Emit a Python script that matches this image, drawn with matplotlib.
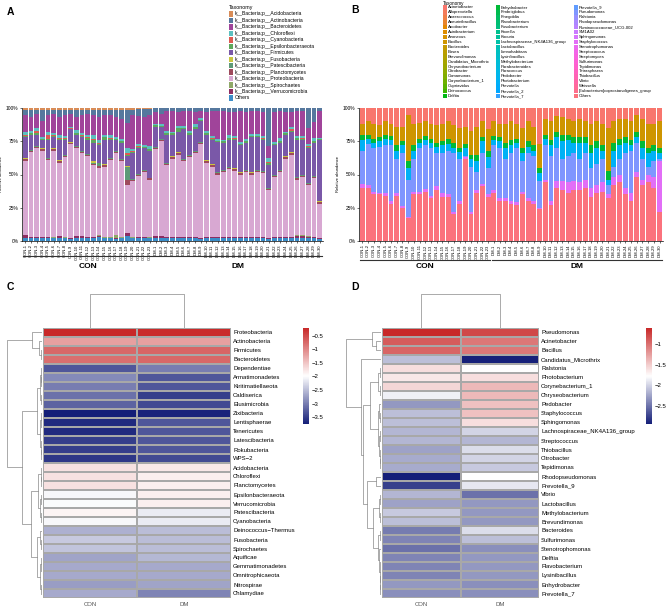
import numpy as np
import matplotlib
matplotlib.use("Agg")
import matplotlib.pyplot as plt
from matplotlib.colors import LinearSegmentedColormap, Normalize
from matplotlib.patches import Rectangle
from matplotlib.cm import ScalarMappable
from matplotlib.transforms import blended_transform_factory

plt.rcParams['font.family'] = ['Liberation Sans', 'DejaVu Sans']

# ---------------- samples ----------------
con_ids = ['CON-%d' % i for i in range(1, 24)]
dm_ids = ['DM-%d' % i for i in range(1, 31)]
samples = con_ids + dm_ids

# ---------------- panel A: phylum composition (%) ----------------
phyla = ['Acidobacteria', 'Actinobacteria', 'Bacteroidetes', 'Chloroflexi', 'Cyanobacteria',
         'Epsilonbacteraeota', 'Firmicutes', 'Fusobacteria', 'Patescibacteria', 'Planctomycetes',
         'Proteobacteria', 'Spirochaetes', 'Verrucomicrobia', 'Others']
phylum_colors = ['#D88C58', '#56789E', '#A0449A', '#5CC0C0', '#DE5A52', '#5DA85C', '#7A58A8',
                 '#C9C640', '#5E9A78', '#9E4A5C', '#D8A8D2', '#8FA868', '#8E2E62', '#3C8DC8']

acido = [1.5, 1.5, 1.5, 1.5, 1.5, 1.5, 1.5, 1.5, 1.5, 1.5, 1.5, 1.5, 1.5, 1.5, 1.5, 1.5, 1.5, 1.5, 1.5, 1.5, 1, 0.5, 0.5,
         0.3, 0.3, 0.3, 0.3, 0.3, 0.3, 0.3, 0.3, 0.3, 0.3, 0.3, 0.3, 0.3, 0.3, 0.3, 0.3, 0.3, 0.3, 0.3, 0.3, 0.3, 0.3, 0.3,
         0.3, 0.3, 0.3, 0.3, 0.3, 0.3, 0.3]
actino = [4, 5, 3, 8, 4, 3, 5, 4, 3, 5, 4, 3, 4, 5, 4, 4, 5, 7, 10, 4, 5, 6, 5,
          3, 4, 2, 2, 3, 2, 2, 3, 2, 3, 2, 2, 2, 3, 3, 2, 3, 2, 2, 3, 28, 3, 2, 3, 3, 2, 2, 15, 10, 2]
bactero = [12.5, 10.5, 10.5, 12, 12.5, 14.5, 14, 15.5, 9.5, 10, 13, 15.5, 15, 17.5, 14.5, 15, 15, 14.5, 18.5, 25, 21, 21, 23,
           8.4, 7.9, 14.9, 15.4, 10.4, 11.4, 14.9, 8.9, 5.4, 13.9, 18.4, 20.9, 21.4, 16.9, 17.4, 23.4, 19.9, 17.4,
           16.9, 17.4, 9.4, 21.9, 20.4, 14.4, 11.2, 18.9, 18.4, 11.4, 12.4, 19.9]
chloro = [2, 1.5, 2, 1.5, 2, 1.5, 2, 1.5, 1, 2, 1.5, 2, 3, 2, 1.5, 2, 1.5, 1.5, 4, 2, 1.5, 1.5, 2,
          1, 1, 1.5, 1, 1, 1, 1.5, 2, 1, 1.5, 2, 1.5, 1, 2, 2, 1, 1.5, 1, 1.5, 2, 3, 1.5, 2, 1, 1, 1.5, 2, 2, 2, 1]
cyano = [1, 0.5, 2, 0.5, 3, 0.5, 1, 0.5, 0.5, 0.5, 1, 0.5, 0.5, 1, 0.5, 0.5, 0.5, 0.5, 1, 0.5, 0.5, 0.5, 0.5,
         0.3, 0.3, 0.3, 0.3, 0.3, 0.3, 0.3, 0.3, 0.3, 0.3, 0.3, 0.3, 0.3, 0.3, 0.3, 0.3, 0.3, 0.3, 0.3, 0.3, 0.3,
         0.3, 0.3, 0.3, 1.5, 0.3, 0.3, 0.3, 0.3, 0.3]
epsilon = [1, 1, 1, 0.5, 1, 1, 0.5, 1, 0.5, 1, 1, 1.5, 2, 1, 2, 1, 0.5, 1, 1, 1, 1, 0.5, 1,
           1, 0.5, 1, 1, 3, 1, 1, 1.5, 1, 1, 1, 1, 1, 1.5, 1, 1, 1, 1, 1, 1, 2, 1, 1, 1, 1, 1, 1, 1, 1, 0.5]
firmic = [16, 11.3, 8.3, 6.3, 13.3, 8.3, 15.3, 11.3, 9.8, 8.3, 10.3, 10.3, 14, 13.3, 18.3, 13.3, 8.3, 12.3, 7.8,
          19.3, 19.3, 16.3, 20.3,
          15.3, 9.3, 21.3, 16.3, 15.3, 22.3, 15.3, 16.3, 15.3, 19.3, 18.3, 22.3, 20.3, 20.3, 21.3, 20.3, 20.3,
          26.3, 24.3, 23.3, 17.3, 22.3, 20.3, 16.3, 15.3, 28.3, 26.3, 26.3, 25.3, 46.3]
fuso = [0.2, 0.2, 0.2, 0.2, 0.2, 0.2, 0.2, 0.2, 0.2, 0.2, 0.2, 0.2, 1.5, 0.2, 0.2, 0.2, 0.2, 0.2, 0.2, 0.2, 0.2, 0.2, 0.2,
        0.2, 0.2, 0.2, 0.2, 0.2, 0.2, 0.2, 0.2, 0.2, 0.2, 0.2, 0.2, 0.2, 0.2, 0.2, 0.2, 0.2, 0.2, 0.2, 0.2, 0.2,
        0.2, 0.2, 0.2, 0.2, 0.2, 0.2, 0.2, 0.2, 0.2]
patesci = [0.5, 0.5, 0.5, 0.5, 0.5, 0.5, 0.5, 0.5, 0.5, 0.5, 0.5, 0.5, 0.5, 2, 0.5, 0.5, 0.5, 0.5, 10, 0.5, 0.5, 0.5, 0.5,
           0.5, 0.5, 0.5, 0.5, 0.5, 0.5, 0.5, 0.5, 0.5, 0.5, 0.5, 0.5, 0.5, 0.5, 0.5, 0.5, 0.5, 0.5, 0.5, 0.5, 0.5,
           0.5, 0.5, 0.5, 0.5, 0.5, 0.5, 0.5, 0.5, 0.5]
plancto = [1.5, 1, 1, 1, 1, 1, 1, 1, 0.5, 1, 1, 1, 1, 1.5, 1, 1, 1, 1, 4, 1, 1, 1, 1,
           1, 1, 1, 1, 1, 1, 1, 1, 1, 1, 1, 2, 1, 1, 1, 1, 1, 1, 1, 1, 1, 1, 1, 1, 1, 2, 1, 1, 1, 1]
proteo = [55.2, 63.7, 66.7, 64.7, 57.7, 65.2, 55.2, 60.2, 70.7, 66.2, 62.2, 60.7, 53.7, 50.7, 53.2, 58.2, 61.5,
          57.2, 35.7, 42.2, 45.7, 48.7, 43.2,
          65.2, 71.2, 53.9, 58.9, 61.9, 56.9, 59.9, 62.9, 70.4, 55.9, 52.9, 46.9, 48.9, 50.9, 49.9, 46.9, 48.9,
          46.9, 48.9, 47.9, 35.4, 44.9, 48.9, 58.9, 61.9, 41.7, 43.7, 38.4, 43.9, 25.4]
spiro = [0.3, 0.3, 0.3, 0.3, 0.3, 0.3, 0.3, 0.3, 0.3, 0.3, 0.3, 0.3, 0.3, 0.3, 0.3, 0.3, 2, 0.3, 0.3, 0.3, 0.3, 0.3, 0.3,
         0.3, 0.3, 0.3, 0.3, 0.3, 0.3, 0.3, 0.3, 0.3, 0.3, 0.3, 0.3, 0.3, 0.3, 0.3, 0.3, 0.3, 0.3, 0.3, 0.3, 0.3,
         0.3, 0.3, 0.3, 0.3, 0.3, 0.3, 0.3, 0.3, 0.3]
verruco = [2, 0.5, 1, 1, 1, 0.5, 1, 0.5, 0.5, 1, 1, 0.5, 1, 1, 0.5, 0.5, 1, 0.5, 2, 0.5, 0.5, 0.5, 0.5,
           1, 1, 0.8, 0.8, 0.8, 0.8, 0.8, 0.8, 0.8, 0.8, 0.8, 0.8, 0.8, 0.8, 0.8, 0.8, 0.8, 0.8, 0.8, 0.8, 0.8,
           0.8, 0.8, 0.8, 0.8, 2, 2, 0.8, 0.8, 0.8]
others_a = [2.5, 2.5, 2, 2, 2, 2, 2.5, 2, 1.5, 2.5, 2.5, 2.5, 2, 3, 2, 2, 1.5, 2, 4, 2, 2.5, 2.5, 2,
            2.5, 2.5, 2, 2, 2, 2, 2, 2, 1.5, 2, 2, 2, 2, 2, 2, 2, 2, 2, 2, 2, 1.5, 2, 2, 2, 2, 2, 2, 2.5, 2, 1.5]

# ---------------- panel B: genus composition (%) ----------------
genera = ['Acinetobacter', 'Alloprevotella', 'Anaerococcus', 'Aneurinibacillus', 'Arcobacter',
          'Asinibacterium', 'Azonexus', 'Bacillus', 'Bacteroides', 'Bosea', 'Brevundimonas',
          'Candidatus_Microthrix', 'Chryseobacterium', 'Citrobacter', 'Comamonas', 'Corynebacterium_1',
          'Cupriavidus', 'Deinococcus', 'Delftia',
          'Enhydrobacter', 'Fimbriiglobus', 'Finegoldia', 'Flavobacterium', 'Fusobacterium', 'Knoellia',
          'Kocuria', 'Lachnospiraceae_NK4A136_group', 'Lactobacillus', 'Limnohabitans', 'Lysinibacillus',
          'Methylobacterium', 'Parabacteroides', 'Paracoccus', 'Pedobacter', 'Photobacterium', 'Prevotella',
          'Prevotella_2', 'Prevotella_7',
          'Prevotella_9', 'Pseudomonas', 'Ralstonia', 'Rhodopseudomonas', 'Ruminococcaceae_UCG-002', 'SM1A02',
          'Sphingomonas', 'Staphylococcus', 'Stenotrophomonas', 'Streptococcus', 'Streptomyces',
          'Sulfurimonas', 'Tepidimonas', 'Tetrasphaera', 'Thiobacillus', 'Vibrio', 'Weissella',
          '[Eubacterium]coprostanoligenes_group', 'Others']

acinetobacter = [12, 10, 12, 13, 10, 12, 14, 14, 5, 12, 11, 10, 12, 13, 12, 10, 13, 15, 14, 17, 14, 10, 16,
                 10, 12, 12, 10, 12, 15, 10, 14, 27, 8, 10, 6, 7, 8, 10, 8, 10, 12, 10, 12, 15, 10, 8, 8, 10, 5,
                 8, 12, 12, 10]
bacillus = [8, 10, 11, 9, 10, 9, 14, 11, 35, 16, 12, 11, 11, 13, 13, 13, 13, 15, 13, 18, 21, 12, 16,
            11, 10, 14, 14, 11, 15, 15, 14, 18, 12, 14, 12, 13, 12, 12, 14, 12, 16, 15, 16, 32, 16, 15, 14, 14,
            13, 17, 18, 16, 20]
enhydrobacter = [4, 3, 3, 3, 3, 3, 4, 3, 5, 4, 3, 3, 3, 3, 3, 4, 4, 3, 3, 3, 5, 3, 5,
                 3, 3, 4, 4, 3, 4, 4, 4, 4, 3, 4, 4, 5, 4, 4, 4, 4, 6, 5, 4, 7, 6, 5, 4, 4, 4, 5, 4, 4, 4]
photobacterium = [8, 4, 4, 4, 5, 4, 6, 6, 9, 6, 4, 4, 4, 5, 6, 5, 4, 5, 6, 6, 8, 9, 8,
                  4, 5, 8, 6, 4, 6, 5, 4, 6, 5, 8, 8, 13, 12, 8, 12, 8, 11, 12, 6, 4, 12, 10, 8, 4, 4, 8, 10, 8, 4]
pseudomonas = [25, 31, 33, 35, 36, 42, 26, 40, 28, 25, 33, 33, 36, 25, 30, 33, 44, 32, 1, 34, 14, 23, 20,
               34, 38, 30, 36, 41, 23, 34, 34, 20, 26, 34, 25, 17, 20, 21, 18, 20, 15, 16, 18, 7, 8, 12, 26, 32,
               22, 16, 6, 12, 2]
staphylococcus = [3, 2, 2, 1, 2, 2, 2, 1, 1, 2, 2, 2, 2, 3, 3, 2, 2, 2, 1, 2, 2, 2, 2,
                  2, 2, 2, 2, 2, 2, 2, 2, 1, 2, 3, 5, 7, 8, 7, 6, 6, 7, 6, 7, 3, 6, 6, 5, 6, 4, 4, 6, 8, 38]
others_b = [40, 40, 35, 35, 34, 28, 34, 25, 17, 35, 35, 37, 32, 38, 33, 33, 20, 28, 62, 20, 36, 41, 33,
            36, 30, 30, 28, 27, 35, 30, 28, 24, 44, 27, 40, 38, 36, 38, 38, 40, 33, 36, 37, 32, 42, 44, 35, 30,
            48, 42, 44, 40, 22]

# ---------------- panel C: log10 relative abundance, phyla ----------------
c_phyla = ['Proteobacteria', 'Actinobacteria', 'Firmicutes', 'Bacteroidetes', 'Dependentiae',
           'Armatimonadetes', 'Kiritimatiellaeota', 'Caldiserica', 'Elusimicrobia', 'Zixibacteria',
           'Lentisphaerae', 'Tenericutes', 'Latescibacteria', 'Rokubacteria', 'WPS\u22122', 'Acidobacteria',
           'Chloroflexi', 'Planctomycetes', 'Epsilonbacteraeota', 'Verrucomicrobia', 'Patescibacteria',
           'Cyanobacteria', 'Deinococcus\u2212Thermus', 'Fusobacteria', 'Spirochaetes', 'Aquificae',
           'Gemmatimonadetes', 'Omnitrophicaeota', 'Nitrospirae', 'Chlamydiae']
c_con = [-0.22, -1.2, -0.75, -0.8, -3.3, -2.9, -3.0, -3.1, -3.2, -3.75, -3.65, -3.65, -3.5, -3.5, -3.55,
         -1.75, -1.75, -1.75, -2.05, -2.02, -1.9, -2.05, -2.6, -2.4, -2.45, -2.7, -2.65, -2.65, -2.75, -2.65]
c_dm = [-0.25, -1.2, -0.72, -0.75, -3.0, -3.3, -3.3, -3.5, -3.4, -3.7, -3.3, -3.3, -3.3, -3.3, -3.4,
        -1.8, -1.85, -1.85, -1.85, -1.85, -2.15, -2.15, -2.5, -2.5, -2.5, -2.55, -2.65, -2.65, -2.7, -2.95]

# ---------------- panel D: log10 relative abundance, genera ----------------
d_genera = ['Pseudomonas', 'Acinetobacter', 'Bacillus', 'Candidatus_Microthrix', 'Ralstonia',
            'Photobacterium', 'Corynebacterium_1', 'Chryseobacterium', 'Pedobacter', 'Staphylococcus',
            'Sphingomonas', 'Lachnospiraceae_NK4A136_group', 'Streptococcus', 'Thiobacillus', 'Citrobacter',
            'Tepidimonas', 'Rhodopseudomonas', 'Prevotella_9', 'Vibrio', 'Lactobacillus', 'Methylobacterium',
            'Brevundimonas', 'Bacteroides', 'Sulfurimonas', 'Stenotrophomonas', 'Delftia', 'Flavobacterium',
            'Lysinibacillus', 'Enhydrobacter', 'Prevotella_7']
d_con = [-0.62, -0.9, -0.95, -2.1, -1.6, -1.65, -1.55, -1.85, -2.3, -2.1, -2.1, -2.15, -2.15, -2.25, -2.2,
         -2.2, -2.93, -2.75, -2.15, -2.25, -2.05, -2.1, -2.45, -2.4, -2.5, -2.4, -2.4, -2.4, -2.3, -2.35]
d_dm = [-0.8, -1.05, -1.05, -2.92, -1.78, -1.6, -1.4, -1.4, -1.45, -1.45, -1.6, -2.0, -2.15, -1.95, -2.0,
        -2.05, -1.78, -1.9, -2.5, -2.3, -2.3, -2.3, -1.95, -2.1, -2.35, -2.3, -2.3, -2.3, -2.35, -2.35]

# row clustering (leaf index, leaf index, merge height)
tree_c = ((0, (1, (2, 3, 1.5), 3), 10),
          ((((4, (5, 6, 0.8), 1.5), (7, 8, 1), 2.5), ((9, (10, 11, 0.5), 1.5), (12, (13, 14, 0.7), 1.2), 2.5), 5),
           (((15, (16, 17, 0.8), 1.5), ((18, 19, 0.6), (20, 21, 1.2), 1.8), 4),
            ((22, (23, 24, 1), 2.5), ((25, (26, 27, 0.5), 1.2), (28, 29, 1.5), 2), 5), 11), 20), 35)
tree_d = ((0, (1, 2, 5), 9),
          (3, ((((4, 5, 1), (6, 7, 1.5), 3),
                ((8, (9, 10, 1), 2), ((11, 12, 1), (13, (14, 15, 0.8), 1.5), 2), 3.5), 11),
               ((16, 17, 5), (((18, 19, 1), (20, 21, 1), 2),
                              ((22, 23, 1.5), (24, ((25, 26, 0.5), (27, (28, 29, 0.8), 1), 1.2), 2), 3), 8), 14),
               18), 20), 35)

W, H = 669, 611
fig = plt.figure(figsize=(W / 100, H / 100), dpi=100)


def px_axes(x0, y0, x1, y1):
    return fig.add_axes([x0 / W, 1 - y1 / H, (x1 - x0) / W, (y1 - y0) / H])


def px_text(x, y, s, **kw):
    return fig.text(x / W, 1 - y / H, s, **kw)


def px_patch(x, y, w, h, color):
    fig.patches.append(Rectangle((x / W, 1 - (y + h) / H), w / W, h / H,
                                 transform=fig.transFigure, color=color, lw=0))


def hue_pal(n, l=65, c=100):
    # ggplot2 default hue palette (HCL -> sRGB)
    h = np.radians(15 + 360 * np.arange(n) / n)
    Xn, Yn, Zn = 95.047, 100.0, 108.883
    un = 4 * Xn / (Xn + 15 * Yn + 3 * Zn)
    vn = 9 * Yn / (Xn + 15 * Yn + 3 * Zn)
    Y = Yn * ((l + 16) / 116) ** 3
    u = c * np.cos(h) / (13 * l) + un
    v = c * np.sin(h) / (13 * l) + vn
    X = Y * 9 * u / (4 * v)
    Z = Y * (12 - 3 * u - 20 * v) / (4 * v)
    xyz = np.vstack([X, np.full(n, Y), Z]) / 100
    M = np.array([[3.2406, -1.5372, -0.4986], [-0.9689, 1.8758, 0.0415], [0.0557, -0.2040, 1.0570]])
    rgb = np.clip(M @ xyz, 0, None)
    rgb = np.where(rgb > 0.0031308, 1.055 * rgb ** (1 / 2.4) - 0.055, 12.92 * rgb)
    return [tuple(col) for col in np.clip(rgb, 0, 1).T]


def stacked_panel(ax, table, colors, line_y):
    table = np.asarray(table, float)
    table = table / table.sum(axis=0) * 100
    x = np.arange(table.shape[1])
    bottom = np.zeros(table.shape[1])
    for vals, col in zip(table[::-1], colors[::-1]):
        ax.bar(x, vals, 0.85, bottom=bottom, color=col, linewidth=0)
        bottom += vals
    ax.set_xlim(-0.6, len(x) - 0.4)
    ax.set_ylim(0, 100)
    ax.set_yticks([0, 25, 50, 75, 100])
    ax.set_yticklabels(['0%', '25%', '50%', '75%', '100%'], fontsize=3.5)
    ax.set_xticks(x)
    ax.set_xticklabels(samples, rotation=90, fontsize=3)
    ax.tick_params(length=1.5, width=0.4, pad=1)
    ax.set_ylabel('Relative abundance', fontsize=3, labelpad=2)
    for s in ['top', 'right']:
        ax.spines[s].set_visible(False)
    for s in ['left', 'bottom']:
        ax.spines[s].set_linewidth(0.5)
    tr = blended_transform_factory(ax.transData, ax.transAxes)
    n_con = len(con_ids)
    for name, a, b in [('CON', 0, n_con - 1), ('DM', n_con, len(samples) - 1)]:
        ax.plot([a - 0.4, b + 0.4], [line_y, line_y], color='#333333', lw=0.8,
                transform=tr, clip_on=False)
        ax.text((a + b) / 2, -0.195, name, transform=tr, fontsize=6, fontweight='bold',
                ha='center', va='center')


# ---- panel A ----
ax_a = px_axes(22, 108, 323, 241)
stacked_panel(ax_a, [acido, actino, bactero, chloro, cyano, epsilon, firmic, fuso, patesci, plancto,
                     proteo, spiro, verruco, others_a], phylum_colors, -0.113)
px_text(229, 8, 'Taxonomy', fontsize=3.8, va='center')
for i, (name, col) in enumerate(zip(phyla, phylum_colors)):
    yc = 14 + i * 6.46
    px_patch(229, yc - 2.7, 4, 5.4, col)
    label = name if name == 'Others' else 'k__Bacteria;p__' + name
    px_text(234.5, yc, label, fontsize=3.6, va='center')

# ---- panel B ----
genus_colors = hue_pal(len(genera))
genus_values = {'Acinetobacter': acinetobacter, 'Bacillus': bacillus, 'Enhydrobacter': enhydrobacter,
                'Photobacterium': photobacterium, 'Pseudomonas': pseudomonas,
                'Staphylococcus': staphylococcus, 'Others': others_b}
table_b = [genus_values.get(g, [0] * len(samples)) for g in genera]
ax_b = px_axes(359, 108, 663, 241)
stacked_panel(ax_b, table_b, genus_colors, -0.143)
px_text(443, 3, 'Taxonomy', fontsize=3.3, va='center')
col_x = [443, 496, 574]
for i, (name, col) in enumerate(zip(genera, genus_colors)):
    cx = col_x[i // 19]
    yc = 7.5 + (i % 19) * 4.92
    px_patch(cx, yc - 2.3, 4, 4.6, col)
    px_text(cx + 5, yc, name, fontsize=3.1, va='center')

# ---- heatmaps ----
heat_cmap = LinearSegmentedColormap.from_list('heat', ['#141E78', 'white', '#C82828'])


def leaf_lines(node):
    if isinstance(node, int):
        return node + 0.5, 0.0, []
    left, right, h = node
    pl, hl, segs_l = leaf_lines(left)
    pr, hr, segs_r = leaf_lines(right)
    return (pl + pr) / 2, h, segs_l + segs_r + [([hl, h, h, hr], [pl, pl, pr, pr])]


def heat_panel(names, con, dm, tree, hx0, hx1, dx0, cbx, ticks, letter_x):
    vals = np.array([con, dm]).T
    norm = Normalize(vals.min(), vals.max())
    n = len(names)
    ax = px_axes(hx0, 328, hx1, 598)
    ax.pcolormesh(vals, cmap=heat_cmap, norm=norm, edgecolors='#A8A8A8', linewidth=0.35)
    ax.set_ylim(n, 0)
    ax.set_xlim(0, 2)
    ax.yaxis.tick_right()
    ax.set_yticks(np.arange(n) + 0.5)
    ax.set_yticklabels(names, fontsize=4.3)
    ax.set_xticks([0.5, 1.5])
    ax.set_xticklabels(['CON', 'DM'], fontsize=4.3, color='#555555')
    ax.tick_params(length=0, pad=1.5)
    ax.tick_params(axis='x', pad=3)
    for s in ax.spines.values():
        s.set_visible(False)

    # row dendrogram
    axd = px_axes(dx0, 328, hx0 - 1, 598)
    for xs, ys in leaf_lines(tree)[2]:
        axd.plot(xs, ys, color='#888888', lw=0.5)
    axd.set_ylim(n, 0)
    axd.set_xlim(hx0 - 1 - dx0, 0)
    axd.axis('off')

    # column dendrogram
    axc = px_axes(hx0, 290, hx1, 328)
    axc.plot([0.5, 0.5, 1.5, 1.5], [0.5, 34, 34, 0.5], color='#888888', lw=0.5)
    axc.set_xlim(0, 2)
    axc.set_ylim(0, 38)
    axc.axis('off')

    # colour bar
    cax = px_axes(cbx, 328, cbx + 6, 424)
    cb = fig.colorbar(ScalarMappable(norm=norm, cmap=heat_cmap), cax=cax)
    cb.outline.set_visible(False)
    cb.set_ticks(ticks)
    cb.set_ticklabels([('%g' % t).replace('-', '\u2212') for t in ticks])
    cax.tick_params(length=0, labelsize=4.3, pad=2)

    px_text(letter_x, 287, 'C' if letter_x < 300 else 'D', fontsize=7.5, fontweight='bold', va='center')


heat_panel(c_phyla, c_con, c_dm, tree_c, 43, 231, 0, 303, [-0.5, -1, -1.5, -2, -2.5, -3, -3.5], 7)
heat_panel(d_genera, d_con, d_dm, tree_d, 382, 539, 338, 646, [-1, -1.5, -2, -2.5], 351)

px_text(7, 12, 'A', fontsize=7.5, fontweight='bold', va='center')
px_text(351, 10, 'B', fontsize=7.5, fontweight='bold', va='center')

fig.savefig('out.png', dpi=100)
